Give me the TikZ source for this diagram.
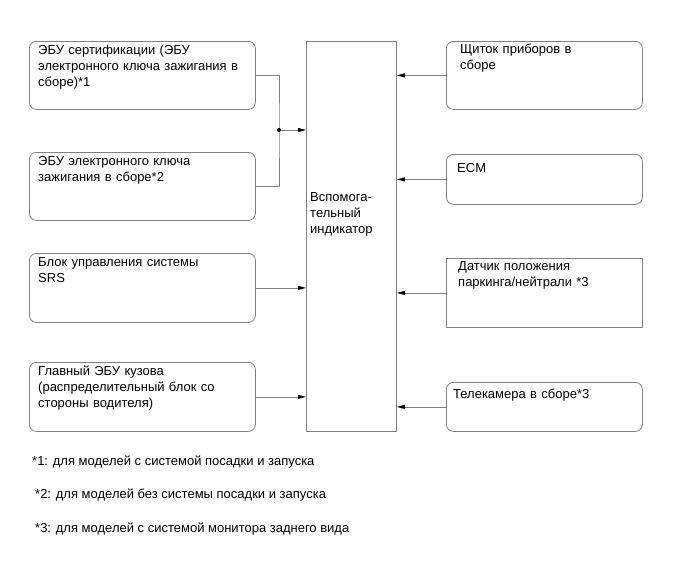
\documentclass[tikz,border=0pt]{standalone}
\usepackage{fontspec}
\setmainfont{Liberation Sans}
\usetikzlibrary{arrows.meta}
\definecolor{framegray}{RGB}{128,128,128}

\begin{document}
\begin{tikzpicture}[x=1pt,y=-1pt,>={Triangle[length=8pt,width=4pt,color=black]},line join=round,font=\fontsize{13}{16.2}\selectfont]
	\tikzset{blk/.style={draw=framegray,line width=0.8pt,rounded corners=7pt,anchor=north west,inner sep=0pt},
		sqblk/.style={blk,rounded corners=0pt},
		txt/.style={anchor=base west,align=left,text width=#1,inner sep=0pt},
		txt/.default=220pt,
		conn/.style={draw=framegray,line width=0.8pt}}
	\useasboundingbox (0,0) rectangle (690,562);
	\node[blk,minimum width=226pt,minimum height=68pt] (cert) at (29,41) {};
	\node[blk,minimum width=226pt,minimum height=68pt] (key) at (29,152) {};
	\node[blk,minimum width=226pt,minimum height=69pt] (srs) at (29,253) {};
	\node[blk,minimum width=226pt,minimum height=69pt] (body) at (29,362) {};
	\node[sqblk,minimum width=90pt,minimum height=390pt] (ind) at (306,41) {};
	\node[blk,minimum width=196pt,minimum height=68pt] (panel) at (446,41) {};
	\node[blk,minimum width=196pt,minimum height=50pt] (ecm) at (446,154) {};
	\node[sqblk,minimum width=196pt,minimum height=69pt] (pnsw) at (446,258) {};
	\node[blk,minimum width=196pt,minimum height=49pt] (cam) at (446,382) {};
	\node[txt] (certtxt) at ([xshift=9pt,yshift=-13pt]cert.north west) {ЭБУ сертификации (ЭБУ\\электронного ключа зажигания в\\сборе)*1};
	\node[txt] (keytxt) at ([xshift=9pt,yshift=-13pt]key.north west) {ЭБУ электронного ключа\\зажигания в сборе*2};
	\node[txt] (srstxt) at ([xshift=9pt,yshift=-13pt]srs.north west) {Блок управления системы\\SRS};
	\node[txt] (bodytxt) at ([xshift=9pt,yshift=-13pt]body.north west) {Главный ЭБУ кузова\\(распределительный блок со\\стороны водителя)};
	\node[txt=85pt] (indtxt) at ([xshift=4pt,yshift=-160pt]ind.north west) {Вспомога-\\тельный\\индикатор};
	\node[txt=180pt] (paneltxt) at ([xshift=14pt,yshift=-12pt]panel.north west) {Щиток приборов в\\сборе};
	\node[txt=180pt] (ecmtxt) at ([xshift=11pt,yshift=-18pt]ecm.north west) {ECM};
	\node[txt=180pt] (pnswtxt) at ([xshift=12pt,yshift=-12pt]pnsw.north west) {Датчик положения\\паркинга/нейтрали *3};
	\node[txt=185pt] (camtxt) at ([xshift=7pt,yshift=-16pt]cam.north west) {Телекамера в сборе*3};
	\coordinate (jn) at (279,130);
	\draw[conn] (cert.east) -| (jn) |- (key.east);
	\draw[conn,->] (jn) -- (jn -| ind.west);
	\fill (jn) circle (2pt);
	\foreach \n in {srs,body}
		\draw[conn,->] (\n.east) -- (\n.east -| ind.west);
	\foreach \n in {panel,ecm,pnsw,cam}
		\draw[conn,->] (\n.west) -- (\n.west -| ind.east);
	\node[anchor=base west,inner sep=0pt] (fn1) at (32,465) {*1: для моделей с системой посадки и запуска};
	\node[anchor=base west,inner sep=0pt] (fn2) at (35,498) {*2: для моделей без системы посадки и запуска};
	\node[anchor=base west,inner sep=0pt] (fn3) at (35,532) {*3: для моделей с системой монитора заднего вида};
\end{tikzpicture}
\end{document}
